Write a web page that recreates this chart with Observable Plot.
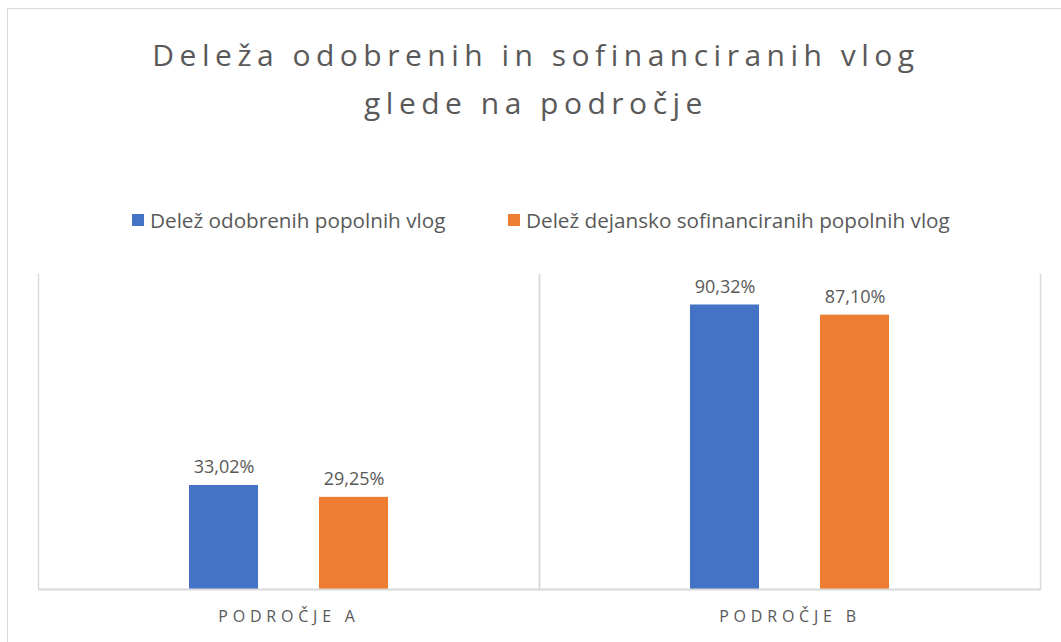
<!DOCTYPE html>
<html>
<head>
<meta charset="utf-8">
<script src="https://cdn.jsdelivr.net/npm/d3@7"></script>
<script src="https://cdn.jsdelivr.net/npm/@observablehq/plot@0.6"></script>
<style>
  html, body { margin: 0; padding: 0; background: #fff; }
  #wrap { position: relative; width: 1061px; height: 642px; overflow: hidden; font-family: "Open Sans", sans-serif; }
  #frame { position: absolute; left: 7px; top: 8px; width: 1100px; height: 700px; border: 1.5px solid #d9d9d9; box-sizing: border-box; }
  #title { position: absolute; left: 0; width: 1072px; top: 31px; text-align: center; color: #595959; font-size: 30px; font-weight: 400; letter-spacing: 5.5px; line-height: 48px; }
  .leg { position: absolute; top: 206px; color: #595959; font-size: 20.7px; white-space: nowrap; display: flex; align-items: center; }
  .sw { width: 12px; height: 12px; margin-right: 6px; display: inline-block; }
  #chart { position: absolute; left: 0; top: 0; }
  g[aria-label="fx-axis tick label"] text { letter-spacing: 4.8px; }
</style>
</head>
<body>
<div id="wrap">
  <div id="frame"></div>
  <div id="title">Deleža odobrenih in sofinanciranih vlog<br>glede na področje</div>
  <div id="legend"></div>
  <div id="chart"></div>
</div>
<script>
const categories = ["PODROČJE A", "PODROČJE B"];
const series = ["Delež odobrenih popolnih vlog", "Delež dejansko sofinanciranih popolnih vlog"];
const approved = [33.02, 90.32];
const cofinanced = [29.25, 87.10];
const colors = ["#4472C4", "#ED7D31"];
const legendX = [132, 508];

const rows = categories.flatMap((c, i) => [
  {cat: c, series: series[0], value: approved[i]},
  {cat: c, series: series[1], value: cofinanced[i]}
]);
const fmt = v => v.toFixed(2).replace(".", ",") + "%";

const legend = document.getElementById("legend");
series.forEach((s, i) => {
  const d = document.createElement("div");
  d.className = "leg";
  d.style.left = legendX[i] + "px";
  d.innerHTML = `<span class="sw" style="background:${colors[i]}"></span>${s}`;
  legend.appendChild(d);
});

const chart = Plot.plot({
  width: 1061,
  height: 642,
  marginTop: 274,
  marginBottom: 53,
  marginLeft: 37,
  marginRight: 21,
  style: {background: "transparent", fontFamily: "Open Sans, sans-serif"},
  fx: {domain: categories, padding: 0, label: null},
  x: {domain: series, paddingInner: 0.47, paddingOuter: 1.15, axis: null},
  y: {domain: [0, 100], axis: null},
  color: {domain: series, range: colors},
  marks: [
    Plot.frame({anchor: "left", stroke: "#d9d9d9", strokeWidth: 1.5}),
    Plot.frame({anchor: "right", stroke: "#d9d9d9", strokeWidth: 1.5}),
    Plot.barY(rows, {fx: "cat", x: "series", y: "value", fill: "series"}),
    Plot.ruleY([0], {stroke: "#d9d9d9", strokeWidth: 2}),
    Plot.text(rows, {fx: "cat", x: "series", y: "value", text: d => fmt(d.value), lineAnchor: "bottom", dy: -12, fontSize: 18, fill: "#595959"}),
    Plot.axisFx({anchor: "bottom", tickSize: 0, tickPadding: 21, fontSize: 16, fill: "#595959", label: null})
  ]
});
document.getElementById("chart").appendChild(chart);
</script>
</body>
</html>
